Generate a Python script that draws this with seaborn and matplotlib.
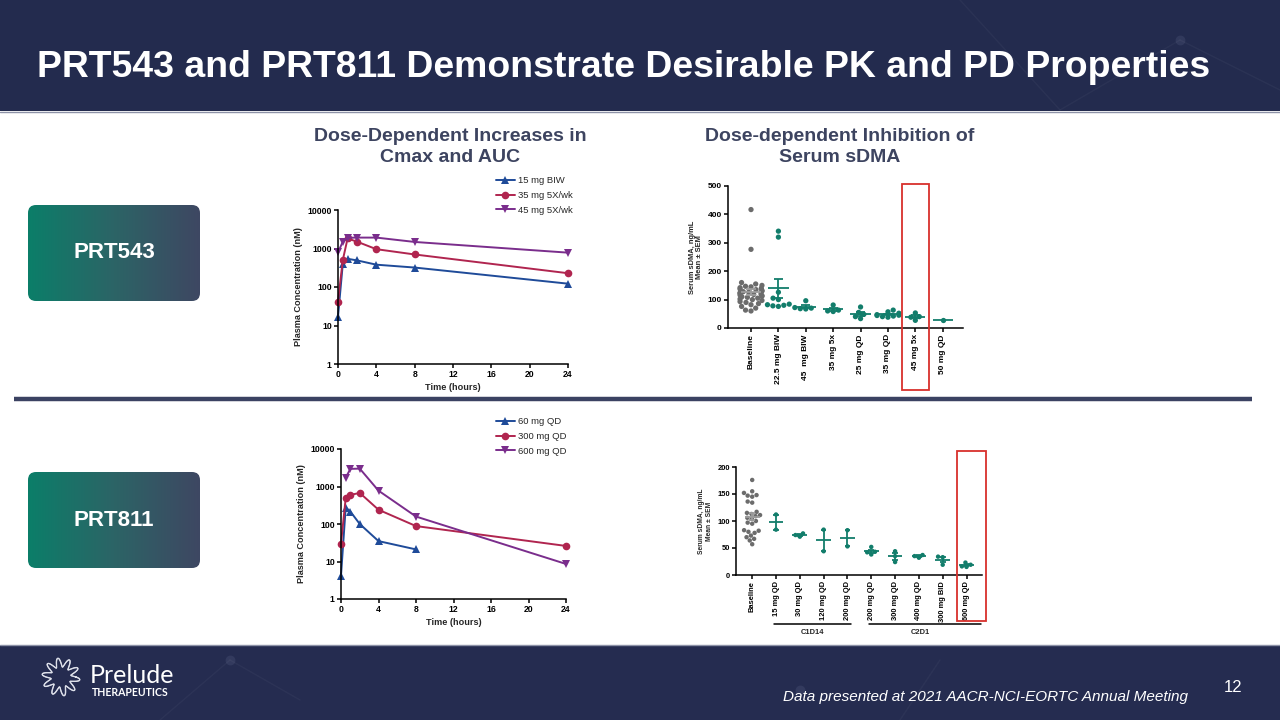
import numpy as np
import pandas as pd
import matplotlib
matplotlib.use("Agg")
import matplotlib.pyplot as plt
import seaborn as sns
from matplotlib.patches import Rectangle, FancyBboxPatch
from matplotlib.colors import LinearSegmentedColormap
from matplotlib.ticker import NullLocator

# ---------------- PK data (plasma concentration, nM) ----------------
pk543_time = [0, 0.5, 1, 2, 4, 8, 24]
pk543_doses = ["15 mg BIW", "35 mg 5X/wk", "45 mg 5X/wk"]
pk543_15mg = [17, 400, 540, 490, 380, 320, 122]
pk543_35mg = [42, 500, 1820, 1500, 960, 700, 228]
pk543_45mg = [790, 1500, 1900, 1920, 1920, 1480, 780]

pk811_time = [0, 0.5, 1, 2, 4, 8, 24]
pk811_doses = ["60 mg QD", "300 mg QD", "600 mg QD"]
pk811_60mg = [4.2, 275, 215, 100, 35, 21, np.nan]
pk811_300mg = [30, 485, 595, 675, 240, 88, 26]
pk811_600mg = [np.nan, 1720, 2950, 3000, 775, 158, 8.6]

# ---------------- PD data (serum sDMA, ng/mL) ----------------
pd543_labels = ["Baseline", "22.5 mg BIW", "45  mg BIW", "35 mg 5x",
                "25 mg QD", "35 mg QD", "45 mg 5x", "50 mg QD"]
pd543_baseline = [417, 277, 160, 155, 150, 147, 145, 142, 140, 137, 135, 132,
                  130, 128, 126, 124, 122, 120, 118, 116, 114, 112, 110, 108,
                  105, 102, 100, 97, 93, 90, 86, 82, 76, 70, 63, 60]
pd543_22_5mg_biw = [341, 320, 126, 105, 100, 84, 82, 80, 78, 76]
pd543_45mg_biw = [96, 72, 70, 68, 67]
pd543_35mg_5x = [81, 63, 60, 58]
pd543_25mg_qd = [74, 55, 48, 40, 33]
pd543_35mg_qd = [63, 57, 52, 47, 45, 44, 42, 40, 38]
pd543_45mg_5x = [53, 40, 38, 27]
pd543_50mg_qd = [29]

pd811_labels = ["Baseline", "15 mg QD", "30 mg QD", "120 mg QD", "200 mg QD",
                "200 mg QD", "300 mg QD", "400 mg QD", "300 mg BID", "600 mg QD"]
pd811_baseline = [176, 155, 152, 148, 147, 145, 136, 134, 117, 115, 113, 111,
                  109, 106, 104, 100, 97, 95, 83, 82, 80, 78, 73, 70, 67, 64, 57]
pd811_15mg = [112, 84]
pd811_30mg = [71, 74, 77]
pd811_120mg = [84, 44]
pd811_200mg_c1 = [83, 53]
pd811_200mg_c2 = [38, 52, 43, 42]
pd811_300mg = [44, 35, 24]
pd811_400mg = [32, 35, 37]
pd811_300mg_bid = [34, 19, 33]
pd811_600mg = [15, 19, 23, 16]

# ---------------- style ----------------
NAVY = "#232B4E"
SLATE = "#3D4460"
TEAL = "#127D6B"
GRAY = "#6C6C6C"
GRAY_LINE = "#9C9C9C"
RED_BOX = "#D8302C"
PK_COLORS = ["#1F4B99", "#B0254F", "#7A2D8C"]

sns.set_style("ticks")
plt.rcParams["font.family"] = ["Liberation Sans", "DejaVu Sans"]
plt.rcParams["axes.edgecolor"] = "black"

fig = plt.figure(figsize=(12.8, 7.2), dpi=100)
fig.patch.set_facecolor("white")


def px_rect(x0, y0, x1, y1):
    return [x0 / 1280, 1 - y1 / 720, (x1 - x0) / 1280, (y1 - y0) / 720]


# background layer in pixel coordinates
bg = fig.add_axes([0, 0, 1, 1], zorder=-5)
bg.set_xlim(0, 1280)
bg.set_ylim(720, 0)
bg.axis("off")

bg.add_patch(Rectangle((0, 0), 1280, 111, color=NAVY, lw=0))
bg.add_patch(Rectangle((0, 645), 1280, 75, color="#252C50", lw=0))
bg.plot([0, 1280], [111.5, 111.5], color="#8E93A8", lw=1)
bg.plot([0, 1280], [644.5, 644.5], color="#8E93A8", lw=1)

# faint network decoration
for (xa, ya, xb, yb) in [(960, 0, 1060, 110), (1060, 110, 1180, 40), (1180, 40, 1280, 90),
                         (160, 720, 230, 660), (230, 660, 300, 700), (900, 720, 940, 660)]:
    bg.plot([xa, xb], [ya, yb], color="white", alpha=0.035, lw=1)
for (xc, yc) in [(1180, 40), (230, 660), (800, 690)]:
    bg.scatter([xc], [yc], s=50, color="#9BA6C8", alpha=0.12, lw=0)

bg.text(37, 77, "PRT543 and PRT811 Demonstrate Desirable PK and PD Properties",
        color="white", fontsize=26.9, fontweight="bold", va="baseline", ha="left")

bg.text(450, 147, "Dose-Dependent Increases in\nCmax and AUC", color=SLATE,
        fontsize=14, fontweight="bold", ha="center", va="center", linespacing=1.35)
bg.text(840, 147, "Dose-dependent Inhibition of\nSerum sDMA", color=SLATE,
        fontsize=14, fontweight="bold", ha="center", va="center", linespacing=1.35)

# gradient pills
pill_cmap = LinearSegmentedColormap.from_list("pill", ["#0B7E69", "#2C6466", "#3E4762"])
grad = np.linspace(0, 1, 256).reshape(1, -1)
for y0, name in [(205, "PRT543"), (472, "PRT811")]:
    box = FancyBboxPatch((28, y0), 172, 96, boxstyle="round,pad=0,rounding_size=8",
                         fc="none", ec="none")
    bg.add_patch(box)
    im = bg.imshow(grad, cmap=pill_cmap, aspect="auto", extent=(28, 200, y0 + 96, y0))
    im.set_clip_path(box)
    bg.text(114, y0 + 48, name, color="white", fontsize=16, fontweight="bold",
            ha="center", va="center")

bg.plot([14, 1252], [399, 399], color="#3B4262", lw=3.2, solid_capstyle="butt")

# footer: logo + texts
theta = np.linspace(0, 2 * np.pi, 500)
for ph in (0.0, 0.2):
    r = 14.5 + 4.5 * np.sin(10 * theta + ph)
    bg.plot(61 + r * np.cos(theta), 677 + r * np.sin(theta), color="#DDE0EA", lw=0.8)
bg.text(90, 683, "Prelude", color="white", fontsize=18, family="Lato",
        va="baseline", ha="left")
bg.text(92, 696, "THERAPEUTICS", color="white", fontsize=7.6, family="Lato",
        fontweight="bold", va="baseline", ha="left")
bg.text(1188, 697, "Data presented at 2021 AACR-NCI-EORTC Annual Meeting", color="white",
        fontsize=11, fontstyle="italic", ha="right", va="center")
bg.text(1233, 688, "12", color="white", fontsize=12, ha="center", va="center")


def style_ticks(ax, size):
    ax.tick_params(axis="both", direction="out", length=3, width=1.1, labelsize=size,
                   pad=1.5, colors="black")
    for lbl in ax.get_xticklabels() + ax.get_yticklabels():
        lbl.set_fontweight("bold")
    for sp in ("left", "bottom"):
        ax.spines[sp].set_linewidth(1.1)
    sns.despine(ax=ax)


def pk_panel(rect, time, doses, series, leg_anchor):
    ax = fig.add_axes(rect)
    ax.set_facecolor("none")
    long = pd.concat([pd.DataFrame({"time": time, "conc": s, "dose": d})
                      for d, s in zip(doses, series)]).dropna()
    sns.lineplot(data=long, x="time", y="conc", hue="dose", style="dose",
                 hue_order=doses, style_order=doses, palette=PK_COLORS,
                 markers=["^", "o", "v"], dashes=False, markersize=5.5,
                 markeredgewidth=0, linewidth=1.4, estimator=None, ax=ax)
    for ln in ax.lines:
        ln.set_clip_on(False)
    ax.set_yscale("log")
    ax.set_ylim(1, 10000)
    ax.set_xlim(0, 24)
    ax.set_xticks(range(0, 25, 4))
    ax.set_yticks([1, 10, 100, 1000, 10000])
    ax.set_yticklabels(["1", "10", "100", "1000", "10000"])
    ax.yaxis.set_minor_locator(NullLocator())
    ax.set_xlabel("Time (hours)", fontsize=6.6, fontweight="bold", labelpad=3)
    ax.set_ylabel("Plasma Concentration (nM)", fontsize=6.6, fontweight="bold", labelpad=3)
    style_ticks(ax, 6.2)
    sns.move_legend(ax, "upper left", bbox_to_anchor=leg_anchor,
                    bbox_transform=fig.transFigure, frameon=False, title=None,
                    fontsize=6.8, handlelength=2.0, handletextpad=0.3,
                    labelspacing=0.62, borderpad=0, borderaxespad=0)
    return ax


def pd_panel(rect, labels, groups, ylim, yticks, dot_size, xlim, mean_half, cap_half,
             tick_size, ylab_size):
    ax = fig.add_axes(rect)
    ax.set_facecolor("none")
    keys = [f"g{i}" for i in range(len(groups))]
    df = pd.concat([pd.DataFrame({"group": k, "value": v,
                                  "kind": "base" if i == 0 else "dose"})
                    for i, (k, v) in enumerate(zip(keys, groups))])
    sns.swarmplot(data=df, x="group", y="value", order=keys, hue="kind",
                  palette={"base": GRAY, "dose": TEAL}, size=dot_size, linewidth=0,
                  legend=False, warn_thresh=1.0, ax=ax)
    stats = df.groupby("group", sort=False)["value"].agg(["mean", "sem"]).reindex(keys)
    for i, (_, row) in enumerate(stats.iterrows()):
        c = GRAY_LINE if i == 0 else TEAL
        ax.hlines(row["mean"], i - mean_half, i + mean_half, color=c, lw=1.3, zorder=4)
        if pd.notna(row["sem"]):
            lo, hi = row["mean"] - row["sem"], row["mean"] + row["sem"]
            ax.vlines(i, lo, hi, color=c, lw=1.3, zorder=4)
            ax.hlines([lo, hi], i - cap_half, i + cap_half, color=c, lw=1.3, zorder=4)
    ax.set_xlim(*xlim)
    ax.set_ylim(*ylim)
    ax.set_yticks(yticks)
    ax.set_xticks(range(len(labels)))
    ax.set_xticklabels(labels, rotation=90)
    ax.set_xlabel("")
    ax.set_ylabel("Serum sDMA, ng/mL\nMean ± SEM", fontsize=ylab_size,
                  fontweight="bold", labelpad=3, linespacing=1.1)
    style_ticks(ax, tick_size)
    return ax


pk_panel(px_rect(338, 210, 568, 364), pk543_time, pk543_doses,
         [pk543_15mg, pk543_35mg, pk543_45mg], (496 / 1280, 1 - 176 / 720))
pk_panel(px_rect(341, 449, 566, 599), pk811_time, pk811_doses,
         [pk811_60mg, pk811_300mg, pk811_600mg], (496 / 1280, 1 - 417 / 720))

pd_panel(px_rect(728, 186, 963, 328), pd543_labels,
         [pd543_baseline, pd543_22_5mg_biw, pd543_45mg_biw, pd543_35mg_5x,
          pd543_25mg_qd, pd543_35mg_qd, pd543_45mg_5x, pd543_50mg_qd],
         (0, 500), range(0, 501, 100), 3.8, (-0.84, 7.74), 0.37, 0.17, 6.0, 5.4)

ax811 = pd_panel(px_rect(736, 467, 982, 575), pd811_labels,
                 [pd811_baseline, pd811_15mg, pd811_30mg, pd811_120mg, pd811_200mg_c1,
                  pd811_200mg_c2, pd811_300mg, pd811_400mg, pd811_300mg_bid, pd811_600mg],
                 (0, 200), range(0, 201, 50), 3.2, (-0.68, 9.65), 0.31, 0.12, 5.4, 4.8)

# cycle brackets under the PRT811 sDMA labels
trans = ax811.get_xaxis_transform()
for (i0, i1, name) in [(1, 4, "C1D14"), (5, 9, "C2D1")]:
    ax811.plot([i0 - 0.08, i1 + 0.15 if i1 < 9 else i1 + 0.6], [-0.45, -0.45], color="black",
               lw=1.1, transform=trans, clip_on=False)
    ax811.text((i0 + i1) / 2 + 0.05, -0.53, name, transform=trans, ha="center", va="center",
               fontsize=5.4, fontweight="bold")

# highlight boxes on top of everything
ov = fig.add_axes([0, 0, 1, 1], zorder=10)
ov.set_xlim(0, 1280)
ov.set_ylim(720, 0)
ov.axis("off")
ov.add_patch(Rectangle((901.7, 184), 27.3, 206, fill=False, ec=RED_BOX, lw=1.3))
ov.add_patch(Rectangle((957.3, 451), 28.7, 170, fill=False, ec=RED_BOX, lw=1.3))

fig.savefig("out.png", dpi=100)
